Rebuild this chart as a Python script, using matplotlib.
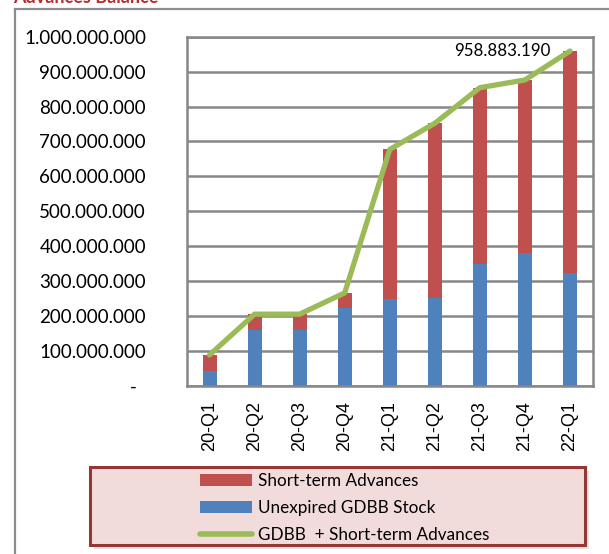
import numpy as np
import matplotlib
matplotlib.use("Agg")
import matplotlib.pyplot as plt
from matplotlib.patches import Rectangle, Patch
from matplotlib.lines import Line2D
from matplotlib.ticker import FuncFormatter

# quarters and balances
quarters = ["20-Q1", "20-Q2", "20-Q3", "20-Q4", "21-Q1", "21-Q2", "21-Q3", "21-Q4", "22-Q1"]
gdbb_stock = [42e6, 160e6, 160e6, 224e6, 249e6, 251e6, 350e6, 379e6, 322e6]
total = [88e6, 205e6, 205e6, 266e6, 677e6, 752e6, 854e6, 876e6, 958883190]
short_term = [t - g for t, g in zip(total, gdbb_stock)]

RED = "#C0504D"
BLUE = "#4F81BD"
GREEN = "#9BBB59"
GRID = "#878787"

fig = plt.figure(figsize=(6.09, 5.54), dpi=100)
W, H = 609, 554

# outer chart frame (partially visible)
fig.add_artist(Line2D([15 / W, 15 / W], [0, 1 - 9 / H], color="#8c8c8c", lw=1.6))
fig.add_artist(Line2D([15 / W, 1], [1 - 9 / H, 1 - 9 / H], color="#8c8c8c", lw=1.6))
fig.text(13 / W, 1 - 3 / H, "Advances Balance", color="#B03030", fontsize=13,
         fontweight="bold", family="Lato", va="baseline")

ax = fig.add_axes([187 / W, 1 - 385.7 / H, (592.5 - 187) / W, (385.7 - 36.7) / H])
x = np.arange(len(quarters))
ax.bar(x, gdbb_stock, width=0.31, color=BLUE, zorder=2)
ax.bar(x, short_term, width=0.31, bottom=gdbb_stock, color=RED, zorder=2)
ax.plot(x, total, color=GREEN, lw=3.8, solid_capstyle="round", zorder=3)

ax.annotate(f"{total[-1]:,.0f}".replace(",", "."), (x[-1], total[-1]),
            xytext=(-14, 0), textcoords="offset points", ha="right", va="center",
            fontsize=12.2, family="Lato")

ax.set_xlim(-0.5, len(quarters) - 0.5)
ax.set_ylim(0, 1e9)
ax.set_yticks(np.arange(0, 1e9 + 1, 1e8))
ax.yaxis.set_major_formatter(FuncFormatter(
    lambda v, p: "-  " if v == 0 else f"{v:,.0f}".replace(",", ".")))
ax.set_xticks(x)
ax.set_xticklabels(quarters, rotation=90, family="Liberation Sans", fontsize=13)
ax.tick_params(axis="x", length=0, pad=11)
ax.tick_params(axis="y", length=0, pad=29.5, labelsize=13.5)
for lab in ax.get_yticklabels():
    lab.set_family("Lato")

ax.grid(axis="y", color=GRID, lw=1.8, zorder=0)
ax.set_axisbelow(True)
for s in ax.spines.values():
    s.set_color(GRID)
    s.set_linewidth(1.8)

# legend box with shadow
lx0, ly0, lw_, lh = 90 / W, 1 - 545 / H, 495 / W, 78 / H
fig.add_artist(Rectangle((lx0 + 4 / W, ly0 - 4 / H), lw_, lh, transform=fig.transFigure,
                         facecolor="#cfcfcf", edgecolor="none", alpha=0.6))
fig.add_artist(Rectangle((lx0, ly0), lw_, lh, transform=fig.transFigure,
                         facecolor="#F2DCDB", edgecolor="#953735", lw=2.2))
handles = [Patch(facecolor=RED), Patch(facecolor=BLUE),
           Line2D([], [], color=GREEN, lw=4, solid_capstyle="round")]
labels = ["Short-term Advances", "Unexpired GDBB Stock", "GDBB  + Short-term Advances"]
fig.legend(handles, labels, loc="upper left", bbox_to_anchor=(200 / W, 1 - 473 / H),
           frameon=False, prop={"family": "Lato", "size": 12.3}, handlelength=3.05,
           handleheight=0.64, handletextpad=0.35, labelspacing=0.65, borderpad=0,
           borderaxespad=0)

fig.savefig("out.png", dpi=100)
